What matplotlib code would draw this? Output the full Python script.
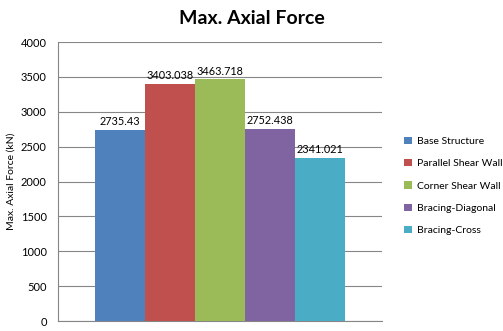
import numpy as np
import matplotlib.pyplot as plt

# values
structures = ["Base Structure", "Parallel Shear Wall", "Corner Shear Wall",
              "Bracing-Diagonal", "Bracing-Cross"]
forces = [2735.43, 3403.038, 3463.718, 2752.438, 2341.021]
force_labels = ["2735.43", "3403.038", "3463.718", "2752.438", "2341.021"]
colors = ["#4F81BD", "#C0504D", "#9BBB59", "#8064A2", "#4BACC6"]

plt.rcParams['font.family'] = ['Lato', 'DejaVu Sans']

fig = plt.figure(figsize=(5.03, 3.31), dpi=100)
ax = fig.add_axes([0.1153, 0.0302, 0.6441, 0.8428])

width = 0.154
for i, (name, val, lab, c) in enumerate(zip(structures, forces, force_labels, colors)):
    bars = ax.bar((i - 2) * width, val, width=width, color=c, label=name, zorder=3)
    ax.bar_label(bars, labels=[lab], padding=2, fontsize=7.8, color="black")

ax.set_xlim(-0.5, 0.5)
ax.set_ylim(0, 4000)
ax.set_yticks(np.arange(0, 4001, 500))
ax.set_xticks([])
ax.tick_params(axis='y', labelsize=8, length=0, pad=8)
ax.grid(axis='y', color="#868686", linewidth=0.8, zorder=0)
for s in ["top", "right"]:
    ax.spines[s].set_visible(False)
for s in ["left", "bottom"]:
    ax.spines[s].set_color("#868686")
    ax.spines[s].set_linewidth(0.8)

ax.set_ylabel("Max. Axial Force (kN)", fontsize=7.5, labelpad=4)
fig.text(0.5, 0.945, "Max. Axial Force", ha='center', va='center',
         fontsize=14, fontweight='bold')

fig.legend(loc='upper left', bbox_to_anchor=(0.785, 0.615), frameon=False,
           fontsize=7.5, handlelength=0.7, handleheight=0.7, handletextpad=0.5,
           labelspacing=1.25)

fig.savefig("out.png", dpi=100)
